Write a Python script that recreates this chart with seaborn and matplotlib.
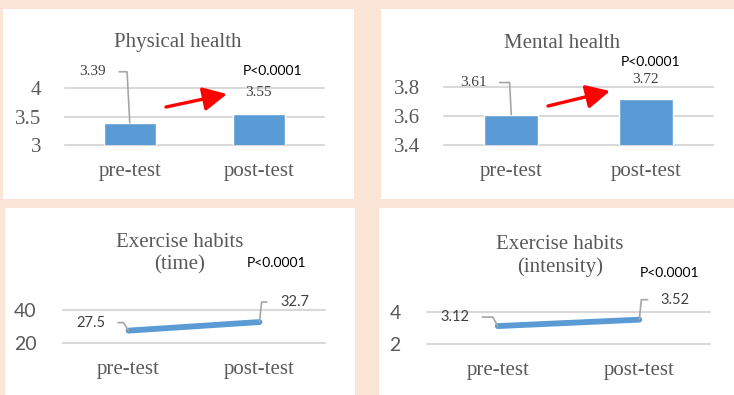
import matplotlib
matplotlib.use("Agg")
import matplotlib.pyplot as plt
from matplotlib.patches import Rectangle, FancyArrowPatch
import seaborn as sns
import numpy as np

# ---- data ----
phases = ["pre-test", "post-test"]
physical_health = [3.39, 3.55]
mental_health = [3.61, 3.72]
exercise_time = [27.5, 32.7]
exercise_intensity = [3.12, 3.52]
p_label = "P<0.0001"

physical_ticks = [3, 3.5, 4]
mental_ticks = [3.4, 3.6, 3.8]
time_ticks = [20, 40]
intensity_ticks = [2, 4]

# ---- style ----
sns.set_theme(style="white")
SERIF = ["Liberation Serif", "DejaVu Serif"]
SANS = ["Lato", "DejaVu Sans"]
plt.rcParams["font.family"] = SERIF

BG = "#FBE5D6"
BLUE = "#5B9BD5"
GRID = "#D9D9D9"
TXT = "#595959"
LBL = "#404040"
LEAD = "#A6A6A6"

W, H = 734, 395
fig = plt.figure(figsize=(W / 100, H / 100), dpi=100, facecolor=BG)


def fx(px):
    return px / W


def fy(py):
    return 1 - py / H


def panel(x0, y0, x1, y1):
    fig.patches.append(Rectangle((fx(x0), fy(y1)), fx(x1 - x0), (y1 - y0) / H,
                                 transform=fig.transFigure, facecolor="white",
                                 edgecolor="none", zorder=-5))


def make_axes(x0, y0, x1, y1):
    ax = fig.add_axes([fx(x0), fy(y1), fx(x1 - x0), (y1 - y0) / H])
    ax.set_facecolor("none")
    for s in ax.spines.values():
        s.set_visible(False)
    return ax


def style_axes(ax, ticks, tick_family, tick_size, ypad):
    ax.set_xlim(-0.5, 1.5)
    ax.set_ylim(ticks[0], ticks[-1])
    ax.set_yticks(ticks)
    ax.set_yticklabels([f"{t:g}" for t in ticks], family=tick_family,
                       fontsize=tick_size, color=TXT)
    ax.set_xticks(range(len(phases)))
    ax.set_xticklabels(phases, family=SERIF, fontsize=15, color=TXT)
    ax.tick_params(axis="both", length=0)
    ax.tick_params(axis="y", pad=ypad)
    ax.tick_params(axis="x", pad=12)
    for t in ticks:
        ax.axhline(t, color=GRID, lw=1.5, zorder=0.5, clip_on=False)
    ax.set_xlabel("")
    ax.set_ylabel("")


def value_label(ax, i, v, dx, dy, family, size, side=None, angle_b=90):
    kw = dict(xy=(i, v), xytext=(dx, dy), textcoords="offset pixels",
              ha="center", va="center", fontsize=size, family=family,
              color=LBL, annotation_clip=False)
    if side is not None:
        kw["arrowprops"] = dict(arrowstyle="-", color=LEAD, lw=1.2,
                                shrinkA=7, shrinkB=0,
                                relpos=(1, 0.5) if side == "left" else (0, 0.5),
                                connectionstyle=f"angle,angleA=0,angleB={angle_b},rad=0")
    ax.annotate(f"{v:g}", **kw)


def red_arrow(p0, p1):
    fig.patches.append(FancyArrowPatch((fx(p0[0]), fy(p0[1])), (fx(p1[0]), fy(p1[1])),
                                       transform=fig.transFigure,
                                       arrowstyle="-|>,head_length=0.8,head_width=0.4",
                                       mutation_scale=18, color="#FF0000", lw=2.4,
                                       shrinkA=0, shrinkB=0, zorder=5))


# white panels
panel(3, 9, 354, 199)
panel(381, 9, 734, 199)
panel(5, 208, 355, 395)
panel(379, 208, 734, 395)

# ---- Physical health ----
ax1 = make_axes(65, 88, 324, 145)
sns.barplot(x=phases, y=physical_health, color=BLUE, width=0.4, ax=ax1,
            saturation=1, zorder=2)
style_axes(ax1, physical_ticks, SERIF, 15, 17)
value_label(ax1, 0, physical_health[0], -37, 51, SERIF, 11, side="left", angle_b=93)
value_label(ax1, 1, physical_health[1], -1, 21, SERIF, 11)
fig.text(fx(178), fy(43), "Physical health", ha="center", va="center",
         fontsize=15, color=TXT, family=SERIF)
fig.text(fx(273), fy(71), p_label, ha="center", va="center", fontsize=10,
         color="black", family=SANS)
red_arrow((166, 107), (227, 94))

# ---- Mental health ----
ax2 = make_axes(444, 87, 713, 145)
sns.barplot(x=phases, y=mental_health, color=BLUE, width=0.4, ax=ax2,
            saturation=1, zorder=2)
style_axes(ax2, mental_ticks, SERIF, 15, 17)
value_label(ax2, 0, mental_health[0], -38, 32, SERIF, 11, side="left", angle_b=93)
value_label(ax2, 1, mental_health[1], 0, 19, SERIF, 11)
fig.text(fx(562), fy(43), "Mental health", ha="center", va="center",
         fontsize=15, color=TXT, family=SERIF)
fig.text(fx(651), fy(62), p_label, ha="center", va="center", fontsize=10,
         color="black", family=SANS)
red_arrow((548, 106), (610, 91))

# ---- Exercise habits (time) ----
ax3 = make_axes(63, 310, 325, 343)
sns.lineplot(x=np.arange(len(phases)), y=exercise_time, color=BLUE, lw=4.2,
             ax=ax3, solid_capstyle="round", zorder=2, clip_on=False)
style_axes(ax3, time_ticks, SANS, 14, 19)
value_label(ax3, 0, exercise_time[0], -38, 8, SANS, 10.5, side="left", angle_b=122)
value_label(ax3, 1, exercise_time[1], 35, 20, SANS, 10.5, side="right", angle_b=84)
fig.text(fx(180), fy(254), "Exercise habits\n(time)", ha="center", va="center",
         fontsize=15, color=TXT, family=SERIF, linespacing=1.2)
fig.text(fx(277), fy(263), p_label, ha="center", va="center", fontsize=10,
         color="black", family=SANS)

# ---- Exercise habits (intensity) ----
ax4 = make_axes(427, 312, 710, 344)
sns.lineplot(x=np.arange(len(phases)), y=exercise_intensity, color=BLUE, lw=4.2,
             ax=ax4, solid_capstyle="round", zorder=2, clip_on=False)
style_axes(ax4, intensity_ticks, SANS, 14, 19)
value_label(ax4, 0, exercise_intensity[0], -43, 9, SANS, 10.5, side="left", angle_b=119)
value_label(ax4, 1, exercise_intensity[1], 36, 20, SANS, 10.5, side="right", angle_b=84)
fig.text(fx(560), fy(256), "Exercise habits\n(intensity)", ha="center", va="center",
         fontsize=15, color=TXT, family=SERIF, linespacing=1.2)
fig.text(fx(670), fy(273), p_label, ha="center", va="center", fontsize=10,
         color="black", family=SANS)

fig.savefig("out.png", dpi=100, facecolor=BG)
